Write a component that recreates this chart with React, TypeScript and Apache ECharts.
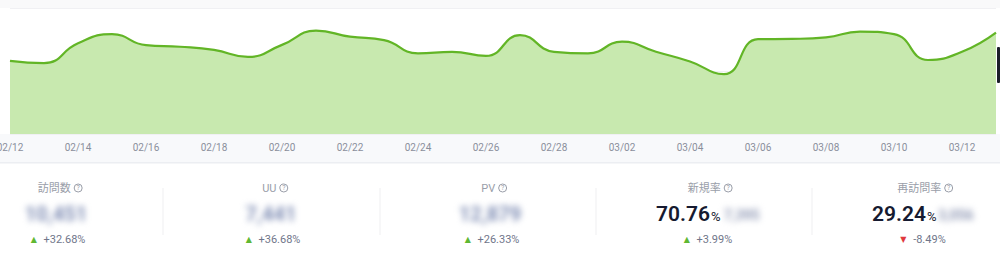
import React, { useEffect, useRef } from "react";
import * as echarts from "echarts";

const dates = [
  "02/12", "02/13", "02/14", "02/15", "02/16", "02/17", "02/18", "02/19", "02/20", "02/21",
  "02/22", "02/23", "02/24", "02/25", "02/26", "02/27", "02/28", "03/01", "03/02", "03/03",
  "03/04", "03/05", "03/06", "03/07", "03/08", "03/09", "03/10", "03/11", "03/12", "03/13",
];
const visits = [
  232, 225, 288, 317, 282, 277, 267, 245, 283, 328,
  309, 298, 256, 261, 248, 314, 261, 256, 293, 261,
  230, 190, 301, 302, 307, 325, 317, 235, 261, 322,
];

const statLabels = ["訪問数", "UU", "PV", "新規率", "再訪問率"];
const statValues = ["10,451", "7,441", "12,879", "70.76", "29.24"];
const statHidden = ["", "", "", "7,395", "3,056"];
const statChanges = ["+32.68%", "+36.68%", "+26.33%", "+3.99%", "-8.49%"];
const statUp = [true, true, true, true, false];

const colCenters = [56, 271, 490, 706, 921];
const valueStarts = [0, 0, 0, 656, 872];
const hiddenStarts = [0, 0, 0, 724, 938];
const dividers = [163, 380, 596, 812];

const FONT = "Roboto, 'Noto Sans CJK JP', sans-serif";

export default function App() {
  const ref = useRef<HTMLDivElement>(null);
  useEffect(() => {
    if (!ref.current) return;
    const chart = echarts.init(ref.current, null, { renderer: "svg" });
    const graphics: any[] = [
      { type: "rect", z: -10, shape: { x: 0, y: 0, width: 1000, height: 8 }, style: { fill: "#f9f9fa" } },
      { type: "rect", z: -10, shape: { x: 0, y: 134, width: 1000, height: 29 }, style: { fill: "#f8f9fb" } },
      { type: "rect", z: -9, shape: { x: 0, y: 162, width: 1000, height: 1.5 }, style: { fill: "#eceef2" } },
      { type: "rect", z: 10, shape: { x: 997, y: 47, width: 3, height: 36, r: 1 }, style: { fill: "#1c1f2b" } },
    ];
    dividers.forEach((x) => {
      graphics.push({
        type: "line",
        shape: { x1: x, y1: 188, x2: x, y2: 235 },
        style: { stroke: "#efeff1", lineWidth: 1 },
      });
    });
    statLabels.forEach((lab, i) => {
      const cx = colCenters[i];
      graphics.push({
        type: "text",
        x: cx + 4,
        y: 188,
        style: {
          text: `{t|${lab}} {i|?}`,
          textAlign: "center",
          textVerticalAlign: "middle",
          align: "center",
          verticalAlign: "middle",
          rich: {
            t: { fontSize: 11, fill: "#9a9ea9", fontFamily: FONT },
            i: {
              fontSize: 7,
              fill: "#9a9ea9",
              width: 8,
              height: 8,
              lineHeight: 8,
              align: "center",
              borderColor: "#9a9ea9",
              borderWidth: 1,
              borderRadius: 5,
              fontFamily: FONT,
            },
          },
        },
      });
      if (statHidden[i] !== "") {
        graphics.push({
          type: "text",
          x: valueStarts[i],
          y: 214,
          style: {
            text: `{v|${statValues[i]}}{p|%}`,
            textAlign: "left",
            textVerticalAlign: "middle",
            align: "left",
            verticalAlign: "middle",
            rich: {
              v: { fontSize: 21, fontWeight: 600, fill: "#161a30", fontFamily: FONT },
              p: { fontSize: 13, fill: "#161a30", fontFamily: FONT, padding: [5, 0, 0, 1] },
            },
          },
        });
      }
      const up = statUp[i];
      graphics.push({
        type: "text",
        x: cx + 2,
        y: 239,
        style: {
          text: `{a|${up ? "▲" : "▼"}}  {t|${statChanges[i]}}`,
          textAlign: "center",
          textVerticalAlign: "middle",
          align: "center",
          verticalAlign: "middle",
          rich: {
            a: { fontSize: 8, fill: up ? "#5fb832" : "#e0383e", fontFamily: "DejaVu Sans" },
            t: { fontSize: 11, fill: "#70768a", fontFamily: FONT },
          },
        },
      });
    });

    chart.setOption({
      animation: false,
      backgroundColor: "#ffffff",
      grid: { left: 10, right: 4, top: 8, bottom: 122, containLabel: false, outerBoundsMode: "none" },
      xAxis: {
        type: "category",
        data: dates,
        boundaryGap: false,
        axisLine: { show: false },
        axisTick: { show: false },
        axisLabel: {
          interval: 1,
          color: "#8a8f9c",
          fontSize: 10,
          margin: 8,
          fontFamily: FONT,
          showMinLabel: true,
        },
        splitLine: { show: false },
      },
      yAxis: {
        type: "value",
        min: 0,
        max: 400,
        interval: 200,
        axisLabel: { show: false },
        axisLine: { show: false },
        axisTick: { show: false },
        splitLine: { lineStyle: { color: "#f0f0f3", width: 1 } },
      },
      series: [
        {
          type: "line",
          data: visits,
          smooth: true,
          symbol: "none",
          lineStyle: { color: "#62b526", width: 2.2 },
          areaStyle: { color: "#c5e8ab", opacity: 0.95 },
        },
      ],
      graphic: graphics,
    });
    return () => chart.dispose();
  }, []);

  const blurred: React.ReactNode[] = [];
  statValues.forEach((v, i) => {
    if (statHidden[i] === "") {
      blurred.push(
        <span
          key={"v" + i}
          style={{
            position: "absolute",
            left: colCenters[i],
            top: 214,
            transform: "translate(-50%, -50%)",
            fontFamily: FONT,
            fontSize: 20,
            fontWeight: 700,
            color: "#7f8db4",
            filter: "blur(3px)",
            whiteSpace: "nowrap",
            lineHeight: "24px",
          }}
        >
          {v}
        </span>
      );
    } else {
      blurred.push(
        <span
          key={"h" + i}
          style={{
            position: "absolute",
            left: hiddenStarts[i],
            top: 215,
            transform: "translate(0, -50%)",
            fontFamily: FONT,
            fontSize: 14,
            fontWeight: 700,
            color: "#8f98b4",
            filter: "blur(3px)",
            whiteSpace: "nowrap",
            lineHeight: "16px",
          }}
        >
          {statHidden[i]}
        </span>
      );
    }
  });

  return (
    <div style={{ position: "fixed", left: 0, top: 0, width: 1000, height: 256 }}>
      <div ref={ref} style={{ position: "absolute", left: 0, top: 0, width: 1000, height: 256 }} />
      {blurred}
    </div>
  );
}
